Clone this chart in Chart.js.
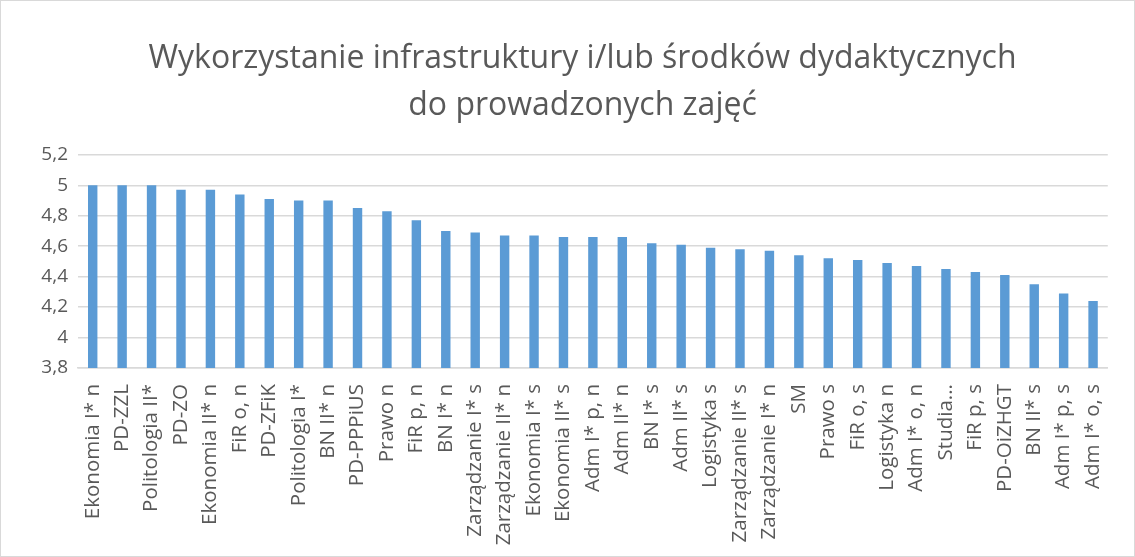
<!DOCTYPE html>
<html>
<head>
<meta charset="utf-8">
<script src="https://cdn.jsdelivr.net/npm/chart.js"></script>
<style>
  html, body { margin: 0; padding: 0; background: #fff; }
  #wrap { position: relative; width: 1135px; height: 557px; box-sizing: border-box; border: 1px solid #d9d9d9; }
</style>
</head>
<body>
<div id="wrap"><canvas id="chart"></canvas></div>
<script>
// kierunki / grupy
const categories = [
  'Ekonomia I* n', 'PD-ZZL', 'Politologia II*', 'PD-ZO', 'Ekonomia II* n',
  'FiR o, n', 'PD-ZFiK', 'Politologia I*', 'BN II* n', 'PD-PPPiUS',
  'Prawo n', 'FiR p, n', 'BN I* n', 'Zarządzanie I* s', 'Zarządzanie II* n',
  'Ekonomia I* s', 'Ekonomia II* s', 'Adm I* p, n', 'Adm II* n', 'BN I* s',
  'Adm II* s', 'Logistyka s', 'Zarządzanie II* s', 'Zarządzanie I* n', 'SM',
  'Prawo s', 'FiR o, s', 'Logistyka n', 'Adm I* o, n', 'Studia...',
  'FiR p, s', 'PD-OiZHGT', 'BN II* s', 'Adm I* p, s', 'Adm I* o, s'
];

// średnie oceny
const values = [
  5.00, 5.00, 5.00, 4.97, 4.97,
  4.94, 4.91, 4.90, 4.90, 4.85,
  4.83, 4.77, 4.70, 4.69, 4.67,
  4.67, 4.66, 4.66, 4.66, 4.62,
  4.61, 4.59, 4.58, 4.57, 4.54,
  4.52, 4.51, 4.49, 4.47, 4.45,
  4.43, 4.41, 4.35, 4.29, 4.24
];

const titleLines = ['Wykorzystanie infrastruktury i/lub środków dydaktycznych', 'do prowadzonych zajęć'];
const yMin = 3.8;
const yMax = 5.2;
const yStep = 0.2;

const textColor = '#595959';
const fontFamily = "'Open Sans', 'Noto Sans', sans-serif";

const ctx = document.getElementById('chart').getContext('2d');
new Chart(ctx, {
  type: 'bar',
  data: {
    labels: categories,
    datasets: [{
      data: values,
      backgroundColor: '#5b9bd5',
      borderWidth: 0,
      barPercentage: 0.32,
      categoryPercentage: 1
    }]
  },
  options: {
    responsive: true,
    maintainAspectRatio: false,
    animation: false,
    // tytuł jest lekko przesunięty w prawo, jak w oryginale
    layout: { padding: { left: 30, right: 0, top: 0, bottom: 0 } },
    plugins: {
      legend: { display: false },
      tooltip: { enabled: false },
      title: {
        display: true,
        text: titleLines,
        color: textColor,
        font: { family: fontFamily, size: 32, weight: 'normal', lineHeight: 1.45 },
        padding: { top: 35, bottom: 26 }
      }
    },
    scales: {
      x: {
        grid: { display: false, drawTicks: false },
        border: { display: true, color: '#d9d9d9', width: 1.5 },
        ticks: {
          color: textColor,
          font: { family: fontFamily, size: 20.5 },
          minRotation: 90,
          maxRotation: 90,
          autoSkip: false,
          padding: 16
        },
        afterFit: axis => { axis.height = 188; }
      },
      y: {
        min: yMin,
        max: yMax,
        grid: { color: '#d9d9d9', lineWidth: 1.5, drawTicks: false },
        border: { display: false },
        ticks: {
          stepSize: yStep,
          color: textColor,
          font: { family: fontFamily, size: 19 },
          padding: 10,
          callback: v => String(parseFloat(v.toFixed(1))).replace('.', ',')
        },
        afterFit: axis => { axis.width = 47; }
      },
      // pusta oś po prawej - tylko margines wykresu
      yRight: {
        position: 'right',
        display: true,
        grid: { display: false, drawTicks: false },
        border: { display: false },
        ticks: { display: false },
        afterFit: axis => { axis.width = 23; }
      }
    }
  }
});
</script>
</body>
</html>
